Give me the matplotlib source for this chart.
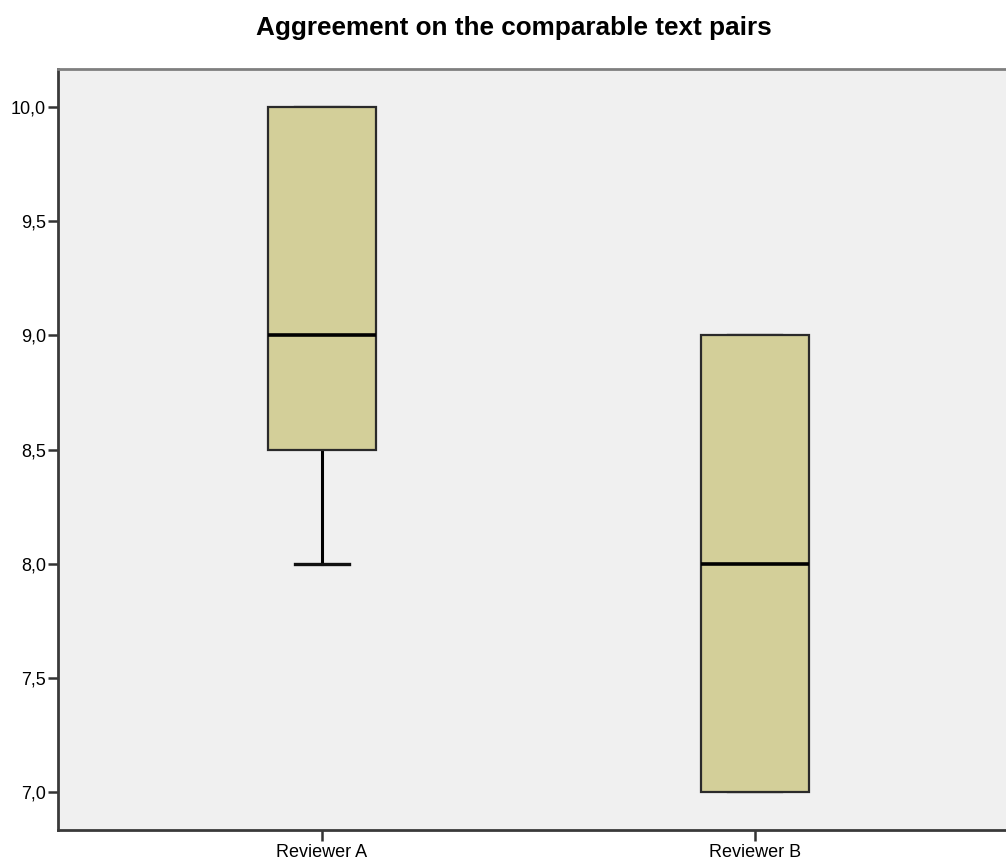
import matplotlib.pyplot as plt

plt.rcParams["font.family"] = ["Liberation Sans", "DejaVu Sans"]

# five-number summaries per reviewer
REVIEWERS = ["Reviewer A", "Reviewer B"]
WHISKER_LOW = [8.0, 7.0]
Q1 = [8.5, 7.0]
MEDIAN = [9.0, 8.0]
Q3 = [10.0, 9.0]
WHISKER_HIGH = [10.0, 9.0]
Y_TICKS = [7.0, 7.5, 8.0, 8.5, 9.0, 9.5, 10.0]

BOX_FILL = "#d3cf99"
PANEL_BG = "#f0f0f0"


def main() -> None:
    fig = plt.figure(figsize=(10.06, 8.61), dpi=100)
    fig.patch.set_facecolor("white")
    # right edge of the panel runs slightly past the figure
    ax = fig.add_axes([58 / 1006, 31 / 861, 961 / 1006, 761 / 861])
    ax.set_facecolor(PANEL_BG)

    stats = [
        {"whislo": lo, "q1": q1, "med": med, "q3": q3, "whishi": hi, "label": name}
        for name, lo, q1, med, q3, hi in zip(REVIEWERS, WHISKER_LOW, Q1, MEDIAN, Q3, WHISKER_HIGH)
    ]
    parts = ax.bxp(
        stats,
        positions=[1, 2],
        widths=0.25,
        showfliers=False,
        patch_artist=True,
        boxprops={"facecolor": BOX_FILL, "edgecolor": "#2a2a2a", "linewidth": 1.6, "zorder": 3},
        medianprops={"color": "black", "linewidth": 2.6, "zorder": 4},
        whiskerprops={"color": "black", "linewidth": 2.2},
        capprops={"color": "#111111", "linewidth": 2.4, "zorder": 2},
        capwidths=0.125,
    )
    # caps sitting on a box edge are drawn thin so they merge with the edge
    for cap in parts["caps"]:
        y = cap.get_ydata()[0]
        if y in Q1 or y in Q3:
            cap.set_linewidth(1.6)

    ax.set_xlim(0.39, 2.61)
    ax.set_ylim(6.834, 10.166)
    ax.set_yticks(Y_TICKS)
    ax.set_yticklabels([f"{v:.1f}".replace(".", ",") for v in Y_TICKS])
    ax.set_xticks([1, 2])
    ax.set_xticklabels(REVIEWERS)
    ax.tick_params(axis="y", direction="out", length=7.5, width=1.8, color="#333333",
                   labelsize=13, pad=1)
    ax.tick_params(axis="x", direction="out", length=8, width=1.8, color="#333333",
                   labelsize=13, pad=2)

    for side in ("left", "bottom"):
        ax.spines[side].set_color("#3a3a3a")
        ax.spines[side].set_linewidth(2.0)
    ax.spines["top"].set_color("#7f7f7f")
    ax.spines["top"].set_linewidth(2.0)
    ax.spines["right"].set_visible(False)

    fig.text(0.511, 1 - 28 / 861, "Aggreement on the comparable text pairs",
             ha="center", va="center", fontsize=18.8, fontweight="bold")

    fig.savefig("out.png", dpi=100)
    plt.close(fig)


if __name__ == "__main__":
    main()
